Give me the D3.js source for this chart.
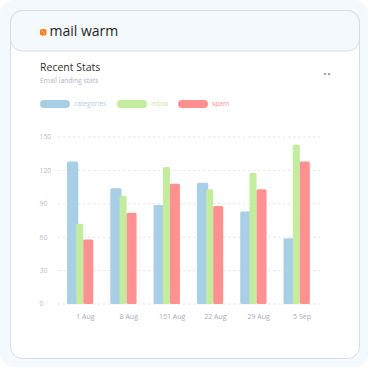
<!DOCTYPE html>
<html>
<head>
<meta charset="utf-8">
<script src="https://cdn.jsdelivr.net/npm/d3@7"></script>
<style>
  body { margin: 0; background: #fff; }
  svg { display: block; font-family: "Open Sans", "Lato", sans-serif; }
</style>
</head>
<body>
<div class="chart"></div>
<script>
// data
var dates = ["1 Aug", "8 Aug", "151 Aug", "22 Aug", "29 Aug", "5 Sep"];
var categories = [128, 104, 89, 109, 83, 59];
var inbox = [72, 97, 123, 103, 118, 143];
var spam = [58, 82, 108, 88, 103, 128];
var yTicks = [0, 30, 60, 90, 120, 150];
var seriesNames = ["categories", "inbox", "spam"];

var colors = { categories: "#a8cfe6", inbox: "#c3ec9d", spam: "#ff9191" };

var svg = d3.select(".chart")
  .append("svg")
    .attr("width", 370)
    .attr("height", 370);

// page background + card
svg.append("rect")
    .attr("x", 0).attr("y", 0)
    .attr("width", 368).attr("height", 367)
    .attr("rx", 14)
    .attr("fill", "#f4f9fe");

svg.append("rect")
    .attr("x", 10.5).attr("y", 10.5)
    .attr("width", 349).attr("height", 348)
    .attr("rx", 12)
    .attr("fill", "#fff")
    .attr("stroke", "#d4dde6");

// header box
svg.append("rect")
    .attr("x", 10.5).attr("y", 10.5)
    .attr("width", 349).attr("height", 40.5)
    .attr("rx", 12)
    .attr("fill", "#f4f9fd")
    .attr("stroke", "#d4dde6");

// logo
var logo = svg.append("g").attr("transform", "translate(40,29)");
logo.append("rect")
    .attr("width", 6.5).attr("height", 6.5)
    .attr("rx", 1.8)
    .attr("fill", "#f5821f");
logo.append("line")
    .attr("x1", 1.5).attr("y1", 1.5).attr("x2", 5).attr("y2", 5)
    .attr("stroke", "#ffc38f").attr("stroke-width", 1);

svg.append("text")
    .attr("x", 49.5).attr("y", 36)
    .attr("font-size", 14)
    .attr("font-weight", 500)
    .attr("fill", "#1e1e24")
    .text("mail warm");

svg.append("text")
    .attr("x", 40).attr("y", 71)
    .attr("font-size", 10.5)
    .attr("fill", "#333")
    .text("Recent Stats");

svg.append("text")
    .attr("x", 40).attr("y", 83)
    .attr("font-size", 6.7)
    .attr("fill", "#b4b4c4")
    .text("Email landing stats");

// menu dots
svg.selectAll(".dot")
  .data([324, 328])
  .enter().append("rect")
    .attr("class", "dot")
    .attr("x", function(d) { return d; })
    .attr("y", 73)
    .attr("width", 2.2).attr("height", 2.2)
    .attr("fill", "#a9a9bd");

// legend
var legendX = [40, 117, 178];
var legend = svg.selectAll(".legend")
  .data(seriesNames)
  .enter().append("g")
    .attr("class", "legend")
    .attr("transform", function(d, i) { return "translate(" + legendX[i] + ",100)"; });
legend.append("rect")
    .attr("width", 30).attr("height", 8)
    .attr("rx", 4)
    .attr("fill", function(d) { return colors[d]; });
legend.append("text")
    .attr("x", 34).attr("y", 6.2)
    .attr("font-size", 6.7)
    .attr("fill", function(d) { return colors[d]; })
    .text(function(d) { return d; });

// scales
var x = d3.scaleBand()
    .domain(dates)
    .range([63.8, 323.7]);

var y = d3.scaleLinear()
    .domain([0, 150])
    .range([304, 137]);

// grid
svg.append("g")
  .selectAll("line")
  .data(yTicks)
  .enter().append("line")
    .attr("x1", 58).attr("x2", 323)
    .attr("y1", function(d) { return y(d); })
    .attr("y2", function(d) { return y(d); })
    .attr("stroke", "#e3e4ea")
    .attr("stroke-dasharray", "2.5,2.5");

// y labels
svg.append("g")
  .selectAll("text")
  .data(yTicks)
  .enter().append("text")
    .attr("x", 39.5)
    .attr("y", function(d) { return y(d); })
    .attr("dy", "0.35em")
    .attr("font-size", 6.8)
    .attr("fill", "#b9b9c6")
    .text(function(d) { return d; });

// bars (blue, then green over it, then red)
var seriesData = { categories: categories, inbox: inbox, spam: spam };
var barOffset = { categories: [-18.5, 11.3], inbox: [-9.2, 7], spam: [-2.2, 10] };

seriesNames.forEach(function(name) {
  svg.append("g")
    .selectAll("rect")
    .data(dates.map(function(d, i) { return { date: d, value: seriesData[name][i] }; }))
    .enter().append("rect")
      .attr("x", function(d) { return x(d.date) + x.bandwidth() / 2 + barOffset[name][0]; })
      .attr("y", function(d) { return y(d.value); })
      .attr("width", barOffset[name][1])
      .attr("height", function(d) { return y(0) - y(d.value); })
      .attr("rx", 1.5)
      .attr("fill", colors[name]);
});

// x labels
svg.append("g")
  .selectAll("text")
  .data(dates)
  .enter().append("text")
    .attr("x", function(d) { return x(d) + x.bandwidth() / 2; })
    .attr("y", 319)
    .attr("text-anchor", "middle")
    .attr("font-size", 7)
    .attr("fill", "#a9a9ba")
    .text(function(d) { return d; });
</script>
</body>
</html>
